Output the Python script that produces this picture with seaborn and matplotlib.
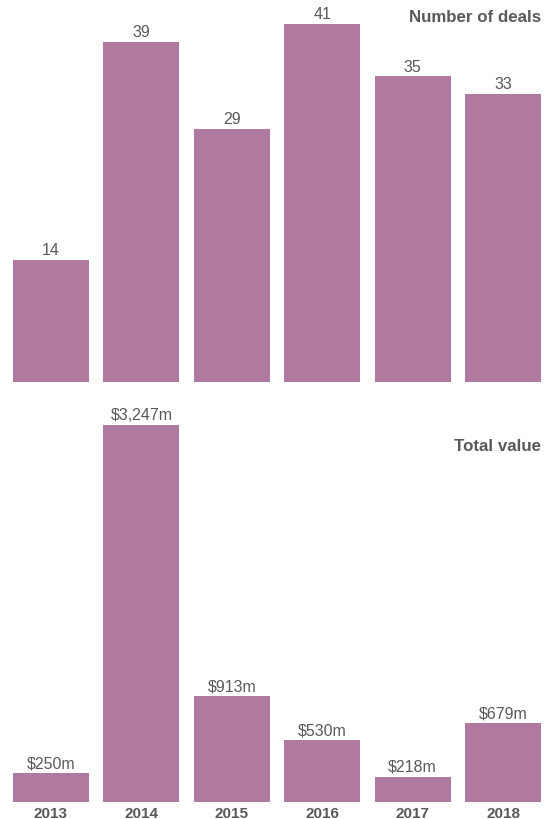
import matplotlib
matplotlib.use("Agg")
import matplotlib.pyplot as plt
import seaborn as sns
import pandas as pd

years = ["2013", "2014", "2015", "2016", "2017", "2018"]
deal_counts = [14, 39, 29, 41, 35, 33]
total_value_m = [250, 3247, 913, 530, 218, 679]

BAR = "#B0799F"
TEXT = "#595959"

sns.set_theme(style="white")
plt.rcParams["font.family"] = ["Liberation Sans", "DejaVu Sans"]

df = pd.DataFrame({"year": years, "deals": deal_counts, "value": total_value_m})

fig = plt.figure(figsize=(5.5, 8.2), dpi=100)
ax_top = fig.add_axes([0.0, 1 - 383 / 820, 1.0, 383 / 820])
ax_bot = fig.add_axes([0.0, 1 - 803 / 820, 1.0, 398 / 820])

for ax, col in ((ax_top, "deals"), (ax_bot, "value")):
    sns.barplot(data=df, x="year", y=col, color=BAR, saturation=1,
                width=0.84, linewidth=0, ax=ax)
    ax.set_xlim(-0.42 - 13 / 90.4, 5.42 + 9 / 90.4)
    sns.despine(ax=ax, left=True, bottom=True)
    ax.set_ylabel("")
    ax.set_xlabel("")
    ax.set_yticks([])

ax_top.set_ylim(0, 383 / 8.73)
ax_bot.set_ylim(0, 398 / 0.1161)

ax_top.bar_label(ax_top.containers[0], labels=[f"{v}" for v in deal_counts],
                 padding=2, fontsize=11.5, color=TEXT)
ax_bot.bar_label(ax_bot.containers[0], labels=[f"${v:,}m" for v in total_value_m],
                 padding=2, fontsize=11.5, color=TEXT)

ax_top.set_xticks([])
ax_bot.tick_params(axis="x", length=0, pad=3)
ax_bot.set_xticks(range(len(years)))
ax_bot.set_xticklabels(years, fontsize=11, fontweight="bold", color=TEXT)

fig.text(541 / 550, 1 - 18 / 820, "Number of deals", ha="right", va="center",
         fontsize=12.2, fontweight="bold", color=TEXT)
fig.text(541 / 550, 1 - 447 / 820, "Total value", ha="right", va="center",
         fontsize=12.2, fontweight="bold", color=TEXT)

fig.savefig("out.png", dpi=100, facecolor="white")
